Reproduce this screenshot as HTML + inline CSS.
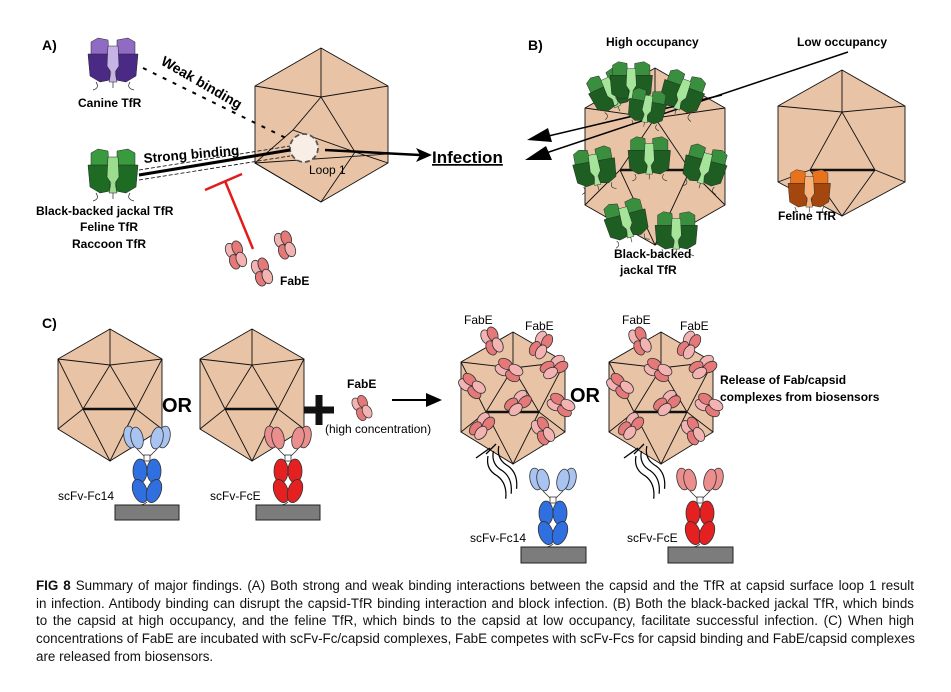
<!DOCTYPE html>
<html><head><meta charset="utf-8"><style>
body{margin:0;background:#fff;width:951px;height:692px;overflow:hidden}
svg{display:block}
text{font-family:"Liberation Sans",Arial,sans-serif}
.b{font-weight:bold}
.cap{position:absolute;left:36px;top:577px;width:878px;white-space:nowrap;font-family:"Liberation Sans",Arial,sans-serif;font-size:13.4px;line-height:17.7px;color:#111}
.cap .j{text-align:justify;text-align-last:justify}
</style></head><body>
<svg width="951" height="692" viewBox="0 0 951 692">
<defs>
<g id="tfr">
<path d="M3,6 L10,2 L20,4 L21,20 L3,20 Z" fill="var(--c2)" stroke="#222" stroke-width="0.5"/>
<path d="M29,4 L40,2 L47,6 L47,20 L29,20 Z" fill="var(--c2)" stroke="#222" stroke-width="0.5"/>
<path d="M0,18 L22,18 L22,44 L12,46 L2,40 Z" fill="var(--c1)" stroke="#222" stroke-width="0.5"/>
<path d="M28,18 L50,18 L48,40 L38,46 L28,44 Z" fill="var(--c1)" stroke="#222" stroke-width="0.5"/>
<path d="M20,10 L30,10 L31,30 L27,36 L29,46 L21,46 L23,36 L19,30 Z" fill="var(--c3)" stroke="#222" stroke-width="0.5"/>
<path d="M8,46 Q12,52 5,54 M42,46 Q38,52 46,54 M25,46 L25,52" stroke="#222" stroke-width="0.7" fill="none"/>
</g>
<g id="fab" stroke="#333" stroke-width="0.8">
<ellipse cx="-3.5" cy="-6" rx="5" ry="7.5" fill="#f3b3b3"/>
<ellipse cx="3.5" cy="-6" rx="5" ry="7.5" fill="#e57878"/>
<ellipse cx="-3.5" cy="6" rx="5" ry="7.5" fill="#e57878"/>
<ellipse cx="3.5" cy="6" rx="5" ry="7.5" fill="#f3b3b3"/>
</g>
<g id="ab" stroke="#333" stroke-width="0.8">
<ellipse cx="-17" cy="-68" rx="6" ry="11" fill="var(--l)" transform="rotate(-12 -17 -68)"/>
<ellipse cx="-10" cy="-67" rx="6" ry="11" fill="var(--l)" transform="rotate(-12 -10 -67)"/>
<ellipse cx="17" cy="-68" rx="6" ry="11" fill="var(--l)" transform="rotate(12 17 -68)"/>
<ellipse cx="10" cy="-67" rx="6" ry="11" fill="var(--l)" transform="rotate(12 10 -67)"/>
<path d="M-10,-56 L-3,-49 M10,-56 L3,-49" fill="none"/>
<rect x="-3" y="-50" width="6" height="6" fill="#fff"/>
<ellipse cx="-7" cy="-34" rx="7" ry="12" fill="var(--d)"/>
<ellipse cx="7" cy="-34" rx="7" ry="12" fill="var(--d)"/>
<ellipse cx="-7" cy="-14" rx="7" ry="12" fill="var(--d)" transform="rotate(-20 -7 -14)"/>
<ellipse cx="7" cy="-14" rx="7" ry="12" fill="var(--d)" transform="rotate(20 7 -14)"/>
<path d="M0,-3 Q-5,2 -22,0 -30,4 M0,-3 Q5,2 22,0 30,4" fill="none"/>
</g>
<g id="wave" fill="none" stroke="#000" stroke-width="1.2">
<path d="M0,0 Q-8,10 0,20 Q6,30 -2,42"/>
<path d="M7,-2 Q-1,8 7,18 Q13,28 5,40"/>
<path d="M14,-4 Q6,6 14,16 Q20,26 12,38"/>
</g>
<g id="ico" stroke="#111" stroke-width="0.9" fill="none">
<polygon points="0,-66 52,-36 52,34 0,66 -52,34 -52,-36" fill="#e8c3a6"/>
<path d="M0,-66 L0,-30 M-52,-36 L0,-30 L52,-36 M0,-30 L-27,14 L26,14 Z M-52,-36 L-27,14 L-52,34 M52,-36 L26,14 L52,34 M-27,14 L0,66 L26,14"/>
<path d="M-27,14 L26,14" stroke-width="2.4"/>
</g>
</defs>

<!-- Panel A -->
<text x="42" y="50" class="b" font-size="14">A)</text>
<use href="#tfr" x="88" y="36" style="--c1:#4b2a86;--c2:#8f6bc4;--c3:#c8b3e6"/>
<text x="78" y="107" class="b" font-size="12">Canine TfR</text>
<use href="#tfr" x="88" y="147" style="--c1:#1e6b23;--c2:#3a9a3e;--c3:#9bdc8f"/>
<text x="36" y="215" class="b" font-size="12">Black-backed jackal TfR</text>
<text x="80" y="231" class="b" font-size="12">Feline TfR</text>
<text x="72" y="248" class="b" font-size="12">Raccoon TfR</text>

<g stroke="#111" stroke-width="0.9">
<polygon points="321,48 388,86 388,163 321,202 255,163 255,86" fill="#e8c3a6"/>
<path d="M321,48 L321,97 M255,86 L321,97 L388,86 M321,97 L293,130 L355,152 Z M293,130 L255,163 L321,202 L355,152 L388,163 M255,163 L388,154" fill="none"/>
</g>
<circle cx="304" cy="148" r="14" fill="#f8eee6" stroke="#555" stroke-width="1.8" stroke-dasharray="5,3"/>
<text x="309" y="174" font-size="12">Loop 1</text>
<path d="M143,68 L290,140" stroke="#000" stroke-width="2" stroke-dasharray="4,7"/>
<text transform="translate(160,64) rotate(30)" class="b" font-size="14">Weak binding</text>
<text transform="translate(144,163) rotate(-5)" class="b" font-size="13.5">Strong binding</text>
<path d="M139,175 L290,150" stroke="#000" stroke-width="3"/>
<path d="M139,170 L290,146 M139,180 L290,156" stroke="#000" stroke-width="0.8" stroke-dasharray="4,2"/>
<path d="M325,150 L420,155" stroke="#000" stroke-width="2.5"/>
<path d="M416,148 L432,155 L416,162 L420,155Z" fill="#000"/>
<text x="432" y="163" class="b" font-size="17" text-decoration="underline">Infection</text>
<path d="M253,249 L225,181 M205,190 L242,174" stroke="#e21c1c" stroke-width="2.5"/>
<use href="#fab" transform="translate(236,255) rotate(-20)"/>
<use href="#fab" transform="translate(262,272) rotate(-20)"/>
<use href="#fab" transform="translate(285,245) rotate(-20)"/>
<text x="280" y="285" class="b" font-size="12">FabE</text>

<!-- Panel B -->
<text x="528" y="50" class="b" font-size="14">B)</text>
<text x="606" y="46" class="b" font-size="12">High occupancy</text>
<text x="797" y="46" class="b" font-size="12">Low occupancy</text>
<g stroke="#111" stroke-width="0.9" fill="none">
<polygon points="655,68 725,108 725,205 655,245 585,205 585,108" fill="#e8c3a6"/>
<path d="M655,68 L655,118 M585,108 L655,118 L725,108 M655,118 L620,170 L690,170 Z M620,170 L585,205 M690,170 L725,205 M620,170 L655,245 L690,170"/>
<path d="M620,170 L690,170" stroke-width="2.4"/>
<polygon points="842,70 905,106 905,182 842,216 778,182 778,106" fill="#e8c3a6"/>
<path d="M842,70 L842,112 M778,106 L842,112 L905,106 M842,112 L810,170 L875,170 Z M810,170 L778,182 M875,170 L905,182 M810,170 L842,216 L875,170"/>
<path d="M810,170 L875,170" stroke-width="2.4"/>
</g>
<path d="M722,95 L540,138" stroke="#000" stroke-width="1.5"/>
<path d="M848,52 L540,155" stroke="#000" stroke-width="1.5"/>
<path d="M548,128 L527,140 L552,142 Z" fill="#000"/>
<path d="M546,146 L525,160 L552,160 Z" fill="#000"/>
<g style="--c1:#1e5e22;--c2:#3a8f3e;--c3:#a5e59a">
<use href="#tfr" transform="translate(582,80) rotate(-25) scale(0.85)"/>
<use href="#tfr" transform="translate(610,60) scale(0.85)"/>
<use href="#tfr" transform="translate(670,65) rotate(20) scale(0.85)"/>
<use href="#tfr" transform="translate(570,150) rotate(-10) scale(0.85)"/>
<use href="#tfr" transform="translate(628,135) scale(0.85)"/>
<use href="#tfr" transform="translate(690,140) rotate(15) scale(0.85)"/>
<use href="#tfr" transform="translate(600,205) rotate(-15) scale(0.85)"/>
<use href="#tfr" transform="translate(655,210) scale(0.85)"/>
<use href="#tfr" transform="translate(632,85) rotate(10) scale(0.75)"/>
</g>
<use href="#tfr" transform="translate(788,168) scale(0.85)" style="--c1:#a3470e;--c2:#e8731c;--c3:#f7b37d"/>
<text x="778" y="220" class="b" font-size="12">Feline TfR</text>
<text x="614" y="258" class="b" font-size="12">Black-backed</text>
<text x="620" y="274" class="b" font-size="12">jackal TfR</text>

<!-- Panel C -->
<text x="42" y="328" class="b" font-size="14">C)</text>
<use href="#ico" x="110" y="395"/>
<use href="#ico" x="252" y="395"/>
<text x="162" y="412" class="b" font-size="20">OR</text>
<path d="M304,410 L334,410 M319,395 L319,425" stroke="#111" stroke-width="7"/>
<text x="347" y="388" class="b" font-size="12">FabE</text>
<use href="#fab" transform="translate(362,408) rotate(-25) scale(0.9)"/>
<text x="325" y="433" font-size="12">(high concentration)</text>
<path d="M392,400 L432,400" stroke="#000" stroke-width="2"/>
<path d="M426,393 L442,400 L426,407 Z" fill="#000"/>
<use href="#ab" x="147" y="505" style="--l:#a9c4f0;--d:#2f6fe0"/>
<rect x="115" y="505" width="64" height="15" fill="#7c7c7c" stroke="#222"/>
<text x="58" y="500" font-size="12">scFv-Fc14</text>
<use href="#ab" x="288" y="505" style="--l:#eb8e8e;--d:#e52020"/>
<rect x="256" y="505" width="64" height="15" fill="#7c7c7c" stroke="#222"/>
<text x="210" y="500" font-size="12">scFv-FcE</text>

<use href="#ico" x="513" y="398"/>
<use href="#ico" x="661" y="398"/>
<text x="570" y="402" class="b" font-size="20">OR</text>
<g>
<use href="#fab" transform="translate(492,341) rotate(-25)"/>
<use href="#fab" transform="translate(541,345) rotate(30)"/>
<use href="#fab" transform="translate(509,370) rotate(-60)"/>
<use href="#fab" transform="translate(554,367) rotate(60)"/>
<use href="#fab" transform="translate(472,386) rotate(-50)"/>
<use href="#fab" transform="translate(518,403) rotate(50)"/>
<use href="#fab" transform="translate(561,405) rotate(-60)"/>
<use href="#fab" transform="translate(482,426) rotate(40)"/>
<use href="#fab" transform="translate(543,431) rotate(-30)"/>
<use href="#fab" transform="translate(640,341) rotate(-25)"/>
<use href="#fab" transform="translate(689,345) rotate(30)"/>
<use href="#fab" transform="translate(658,370) rotate(-60)"/>
<use href="#fab" transform="translate(703,367) rotate(60)"/>
<use href="#fab" transform="translate(620,386) rotate(-50)"/>
<use href="#fab" transform="translate(667,403) rotate(50)"/>
<use href="#fab" transform="translate(709,405) rotate(-60)"/>
<use href="#fab" transform="translate(631,426) rotate(40)"/>
<use href="#fab" transform="translate(693,431) rotate(-30)"/>
</g>
<text x="464" y="324" font-size="12">FabE</text>
<text x="525" y="330" font-size="12">FabE</text>
<text x="622" y="324" font-size="12">FabE</text>
<text x="680" y="330" font-size="12">FabE</text>
<text x="720" y="384" class="b" font-size="12">Release of Fab/capsid</text>
<text x="720" y="401" class="b" font-size="12">complexes from biosensors</text>
<use href="#wave" transform="translate(488,456) rotate(-25) scale(1,1.1)"/>
<path d="M476,458 L490,448 M486,454 L496,444" stroke="#000" stroke-width="1.3"/>
<use href="#wave" transform="translate(636,456) rotate(-25) scale(1,1.1)"/>
<path d="M624,458 L638,448 M634,454 L644,444" stroke="#000" stroke-width="1.3"/>
<use href="#ab" x="553" y="547" style="--l:#a9c4f0;--d:#2f6fe0"/>
<rect x="521" y="547" width="65" height="16" fill="#7c7c7c" stroke="#222"/>
<text x="470" y="542" font-size="12">scFv-Fc14</text>
<use href="#ab" x="700" y="547" style="--l:#eb8e8e;--d:#e52020"/>
<rect x="668" y="547" width="65" height="16" fill="#7c7c7c" stroke="#222"/>
<text x="627" y="542" font-size="12">scFv-FcE</text>
</svg>
<div class="cap">
<div class="j"><b>FIG 8</b> Summary of major findings. (A) Both strong and weak binding interactions between the capsid and the TfR at capsid surface loop 1 result</div>
<div class="j">in infection. Antibody binding can disrupt the capsid-TfR binding interaction and block infection. (B) Both the black-backed jackal TfR, which binds</div>
<div class="j">to the capsid at high occupancy, and the feline TfR, which binds to the capsid at low occupancy, facilitate successful infection. (C) When high</div>
<div class="j">concentrations of FabE are incubated with scFv-Fc/capsid complexes, FabE competes with scFv-Fcs for capsid binding and FabE/capsid complexes</div>
<div>are released from biosensors.</div>
</div>
</body></html>
